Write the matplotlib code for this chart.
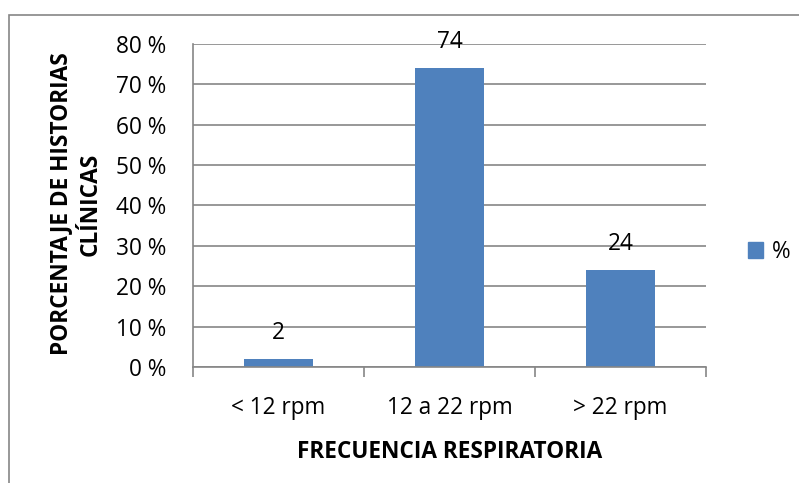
import matplotlib
matplotlib.use("Agg")
from matplotlib import pyplot as plt
from matplotlib.patches import Patch, Rectangle
from matplotlib.ticker import FuncFormatter

# frecuencia respiratoria por historia clinica
categorias = ["< 12 rpm", "12 a 22 rpm", "> 22 rpm"]
porcentajes = [2, 74, 24]
serie = "%"

azul = "#4F81BD"
gris = "#868686"
fs = 16.3
plt.rcParams['font.family'] = ['Open Sans', 'DejaVu Sans']

fig = plt.figure(figsize=(7.99, 4.83), dpi=100)
ax = fig.add_axes([193/799, 116/483, 513/799, 323/483])

x = list(range(len(categorias)))
barras = ax.bar(x, porcentajes, width=0.4, color=azul, zorder=3, label=serie)
for xi, v in zip(x, porcentajes):
    ax.annotate(str(v), (xi, v), xytext=(0, 19), textcoords="offset points",
                ha="center", va="center", fontsize=fs, zorder=4)

ax.set_xlim(-0.5, len(categorias) - 0.5)
ax.set_ylim(0, 80)
ax.set_yticks(range(0, 81, 10))
ax.yaxis.set_major_formatter(FuncFormatter(lambda v, p: "%d %%" % v))
ax.set_xticks(x)
ax.set_xticklabels(categorias)
ax.set_xticks([i - 0.5 for i in range(len(categorias) + 1)], minor=True)
ax.tick_params(axis="x", which="major", length=0, pad=21, labelsize=fs)
ax.tick_params(axis="x", which="minor", length=7, width=1.2, color=gris)
ax.tick_params(axis="y", length=0, pad=19, labelsize=fs)

ax.grid(axis="y", color=gris, lw=1.2, zorder=0)
for s in ["top", "right"]:
    ax.spines[s].set_visible(False)
for s in ["left", "bottom"]:
    ax.spines[s].set_color(gris)
    ax.spines[s].set_linewidth(1.2)
    ax.spines[s].set_zorder(3)

fig.text(76/799, 1 - 204/483, "PORCENTAJE DE HISTORIAS\nCLÍNICAS", rotation=90,
         ha="center", va="center", multialignment="center", fontsize=fs,
         fontweight="bold", linespacing=1.3)
fig.text(450/799, 1 - 452/483, "FRECUENCIA RESPIRATORIA", ha="center", va="center",
         fontsize=fs, fontweight="bold")

ax.legend(handles=[Patch(color=azul, label=serie)], loc="center left",
          bbox_to_anchor=(748/799, 1 - 252/483), bbox_transform=fig.transFigure,
          frameon=False, fontsize=fs, handlelength=0.65, handleheight=0.65,
          handletextpad=0.4, borderpad=0, borderaxespad=0)

# marco exterior del grafico
fig.patches.append(Rectangle((9/799, -0.1), 1.0, (483 - 15)/483 + 0.1, fill=False,
                             edgecolor=gris, lw=1.2, transform=fig.transFigure,
                             clip_on=False))

fig.savefig("out.png", dpi=100)
